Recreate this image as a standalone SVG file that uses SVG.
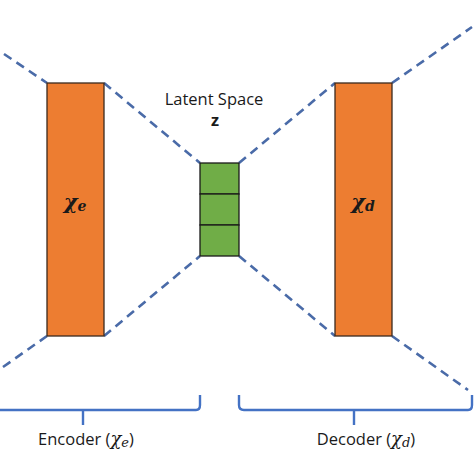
<svg xmlns="http://www.w3.org/2000/svg" width="474" height="474" viewBox="0 0 474 474">
<style>
.dash{stroke:#4A6BA8;stroke-width:2.6;stroke-dasharray:9,6;fill:none}
.brace{stroke:#4472C4;stroke-width:2.4;fill:none}
.orange{fill:#ED7D31;stroke:#3B2A1E;stroke-width:1.3}
.green{fill:#70AD47;stroke:#1A1A1A;stroke-width:1.3}
.lbl{font-family:"Open Sans","Liberation Sans",sans-serif;font-size:16.5px;fill:#1a1a1a}
.math{font-family:"DejaVu Serif","Liberation Serif",serif;font-style:italic;fill:#1a1a1a}
</style>
<rect width="474" height="474" fill="#ffffff"/>
<g id="connectors">
<line class="dash" x1="4" y1="54" x2="47" y2="83"/>
<line class="dash" x1="104" y1="83" x2="200" y2="163"/>
<line class="dash" x1="3" y1="367" x2="47" y2="336"/>
<line class="dash" x1="104" y1="336" x2="200" y2="256"/>
<line class="dash" x1="239" y1="163" x2="335" y2="83"/>
<line class="dash" x1="392" y1="83" x2="472" y2="27"/>
<line class="dash" x1="239" y1="256" x2="335" y2="336"/>
<line class="dash" x1="392" y1="336" x2="468" y2="390"/>
</g>
<g id="encoder">
<rect class="orange" x="47" y="83" width="57" height="253"/>
<text class="math" x="75" y="209" text-anchor="middle" font-size="21" font-weight="bold">χ<tspan font-size="14" dy="2">e</tspan></text>
</g>
<g id="decoder">
<rect class="orange" x="335" y="83" width="57" height="253"/>
<text class="math" x="363" y="209" text-anchor="middle" font-size="21" font-weight="bold">χ<tspan font-size="14" dy="2">d</tspan></text>
</g>
<g id="latent">
<rect class="green" x="200" y="163" width="39" height="31"/>
<rect class="green" x="200" y="194" width="39" height="31"/>
<rect class="green" x="200" y="225" width="39" height="31"/>
<text class="lbl" x="214" y="105" text-anchor="middle" font-size="16">Latent Space</text>
<text class="lbl" x="215" y="126" text-anchor="middle" font-weight="bold">z</text>
</g>
<g id="encoder-brace">
<path class="brace" d="M0,410 H196 Q200,410 200,405 V395 M83,410 V425"/>
<text class="lbl" x="86" y="445" text-anchor="middle">Encoder (<tspan class="math" font-size="18">χ<tspan font-size="13" dy="2">e</tspan></tspan><tspan dy="-2">)</tspan></text>
</g>
<g id="decoder-brace">
<path class="brace" d="M239,395 V405 Q239,410 244,410 H468 Q472,410 472,405 V395 M354,410 V425"/>
<text class="lbl" x="366" y="445" text-anchor="middle">Decoder (<tspan class="math" font-size="18">χ<tspan font-size="13" dy="2">d</tspan></tspan><tspan dy="-2">)</tspan></text>
</g>
</svg>
